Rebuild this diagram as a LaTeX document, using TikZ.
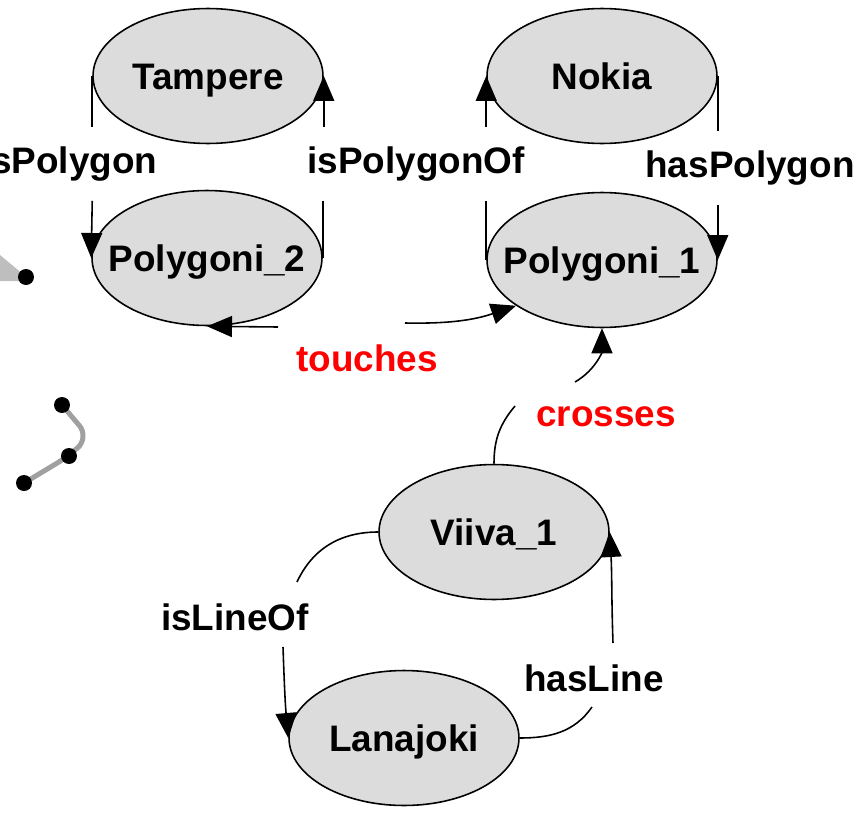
\documentclass[tikz,border=0pt]{standalone}
\usepackage{fontspec}
\setmainfont{Liberation Sans}
\usetikzlibrary{arrows.meta,shapes.geometric}
\definecolor{conceptgray}{RGB}{220,220,220}
\definecolor{mapgray}{RGB}{190,190,190}
\definecolor{routegray}{RGB}{160,160,160}

\begin{document}
\begin{tikzpicture}[x=0.02cm,y=0.02cm,line width=0.9pt,>={Triangle[length=0.5cm,width=0.42cm]}]
    \tikzstyle{every node}=[font=\fontsize{21}{25}\selectfont\bfseries]
    \tikzstyle{concept}=[ellipse,draw,fill=conceptgray,minimum width=4.6cm,minimum height=2.7cm,inner xsep=-0.6cm,inner ysep=0pt,text height=0.53cm,text depth=0pt]
    \tikzstyle{rel}=[inner sep=0pt]
    \tikzstyle{gap}=[minimum height=1.44cm]
    \tikzstyle{spatial}=[text=red,inner sep=0pt]
    \tikzstyle{pt}=[circle,fill=black,inner sep=0pt,minimum size=0.32cm]
    \useasboundingbox (0,0) rectangle (866,-815);
    \clip (0,0) rectangle (866,-815);

    % map sketch at the left edge
    \fill[mapgray] (0,-255) -- (24,-275) -- (24,-281) -- (0,-281) -- cycle;
    \node[pt] (area) at (26,-277) {};
    \coordinate (r1) at (62,-405);
    \coordinate (rbend) at (89,-437);
    \coordinate (r2) at (69,-456);
    \coordinate (r3) at (24,-483);
    \draw[routegray,line width=0.1cm,rounded corners=0.3cm] (r1) -- (rbend) -- (r2) -- (r3);
    \node[pt] (v1) at (r1) {};
    \node[pt] (v2) at (r2) {};
    \node[pt] (v3) at (r3) {};

    \node[concept] (tampere) at (208,-76) {Tampere};
    \node[concept] (poly2) at (207,-258) {Polygoni\_2};
    \node[concept] (nokia) at (602,-76) {Nokia};
    \node[concept] (poly1) at (602,-260) {Polygoni\_1};
    \node[concept] (viiva) at (494,-532) {Viiva\_1};
    \node[concept] (lanajoki) at (404,-738) {Lanajoki};

    % polygon links, broken round their labels
    \node[rel,gap,anchor=east] (isPolygon) at (158,-164) {isPolygon};
    \node[rel,gap] (isPolygonOf) at (416,-164) {isPolygonOf};
    \node[rel,gap] (hasPolygon) at (750,-168) {hasPolygon};
    \draw (tampere.west) -- (tampere.west |- isPolygon.north);
    \draw[->] (tampere.west |- isPolygon.south) -- (poly2.west);
    \draw (poly2.east) -- (poly2.east |- isPolygonOf.south);
    \draw[->] (tampere.east |- isPolygonOf.north) -- (tampere.east);
    \draw (poly1.west) -- (poly1.west |- isPolygonOf.south);
    \draw[->] (nokia.west |- isPolygonOf.north) -- (nokia.west);
    \draw (nokia.east) -- (nokia.east |- hasPolygon.north);
    \draw[->] (nokia.east |- hasPolygon.south) -- (poly1.east);

    % touches
    \coordinate (t1) at (278,-327);
    \coordinate (t2) at (405,-323);
    \draw[->] (t1) -- (poly2.south);
    \draw[->] (t2) to[bend right=10] (poly1.208);
    \node[spatial] (touches) at (367,-358) {touches};

    % crosses
    \coordinate (c1) at (515,-406);
    \coordinate (c2) at (575,-382);
    \draw (viiva.north) to[out=90,in=230] (c1);
    \draw[->] (c2) to[out=30,in=-90] (poly1.south);
    \node[spatial] (crosses) at (606,-417) {crosses};

    % isLineOf / hasLine
    \coordinate (l1) at (297,-582);
    \coordinate (l2) at (283,-647);
    \draw (viiva.west) to[out=180,in=65] (l1);
    \draw[->] (l2) to[out=-88,in=95] (lanajoki.west);
    \node[rel] (isLineOf) at (235,-617) {isLineOf};
    \coordinate (h1) at (592,-707);
    \coordinate (h2) at (613,-643);
    \draw (lanajoki.east) to[out=0,in=235] (h1);
    \draw[->] (h2) to[out=92,in=-87] (viiva.east);
    \node[rel] (hasLine) at (594,-678) {hasLine};
\end{tikzpicture}
\end{document}
